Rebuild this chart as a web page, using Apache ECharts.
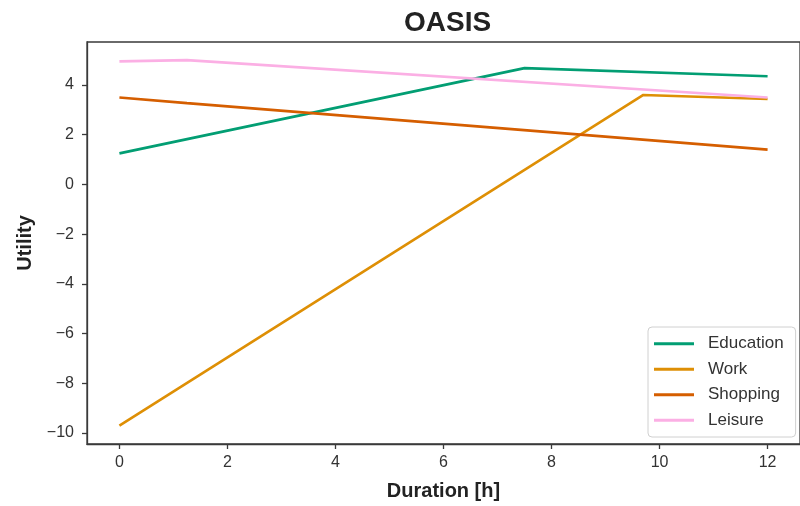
<!DOCTYPE html>
<html>
<head>
<meta charset="utf-8">
<script src="https://cdn.jsdelivr.net/npm/echarts@6/dist/echarts.min.js"></script>
<style>
  html, body { margin: 0; padding: 0; background: #fff; }
  #chart { width: 800px; height: 506px; }
</style>
</head>
<body>
<div id="chart"></div>
<script>
// Utility of each activity as a function of its duration (hours)
const educationX = [0, 7.5, 12];
const educationY = [1.25, 4.68, 4.35];

const workX = [0, 9.7, 12];
const workY = [-9.7, 3.6, 3.44];

const shoppingX = [0, 1.25, 12];
const shoppingY = [3.5, 3.27, 1.4];

const leisureX = [0, 1.25, 12];
const leisureY = [4.95, 5.0, 3.5];

const seriesNames = ['Education', 'Work', 'Shopping', 'Leisure'];
const xTicks = [0, 2, 4, 6, 8, 10, 12];
const yTicks = [-10, -8, -6, -4, -2, 0, 2, 4];

const palette = ['#029e73', '#de8f05', '#d55e00', '#fbafe4'];
const FONT = '"Liberation Sans", Arial, sans-serif';
const INK = '#333333';

function pairs(xs, ys) {
  return xs.map((x, i) => [x, ys[i]]);
}
const seriesData = [
  pairs(educationX, educationY),
  pairs(workX, workY),
  pairs(shoppingX, shoppingY),
  pairs(leisureX, leisureY)
];

const fmtMinus = v => String(v).replace('-', '\u2212');

const chart = echarts.init(document.getElementById('chart'), null, { renderer: 'canvas' });
chart.setOption({
  animation: false,
  backgroundColor: '#ffffff',
  textStyle: { fontFamily: FONT },
  title: {
    text: 'OASIS',
    left: 399,
    top: 4,
    textStyle: { fontFamily: FONT, fontSize: 28, fontWeight: 'bold', color: '#222' }
  },
  grid: {
    left: 87, right: -7, top: 42, bottom: 61,
    show: true, borderColor: '#3a3a3a', borderWidth: 1.3,
    backgroundColor: 'transparent'
  },
  legend: {
    orient: 'vertical',
    left: 648, top: 327,
    data: seriesNames,
    icon: 'rect',
    itemWidth: 40, itemHeight: 3,
    itemGap: 6,
    padding: [7, 12, 7, 6],
    backgroundColor: '#ffffff',
    borderColor: '#d0d0d0', borderWidth: 1, borderRadius: 4,
    textStyle: { fontFamily: FONT, fontSize: 17, color: INK, lineHeight: 19.5, padding: [0, 0, 0, 9] }
  },
  xAxis: {
    type: 'value',
    min: -0.6, max: 12.6,
    name: 'Duration [h]',
    nameLocation: 'middle',
    nameGap: 37,
    nameTextStyle: { fontFamily: FONT, fontSize: 20, fontWeight: 'bold', color: '#222' },
    axisLine: { show: true, onZero: false, lineStyle: { color: '#3a3a3a', width: 1.3 } },
    axisTick: { show: true, inside: false, length: 5, customValues: xTicks, lineStyle: { color: '#3a3a3a', width: 1.3 } },
    axisLabel: { customValues: xTicks, margin: 11, fontFamily: FONT, fontSize: 16, color: INK, formatter: fmtMinus },
    splitLine: { show: false }
  },
  yAxis: {
    type: 'value',
    min: -10.44, max: 5.73,
    name: 'Utility',
    nameLocation: 'middle',
    nameRotate: 90,
    nameGap: 52,
    nameTextStyle: { fontFamily: FONT, fontSize: 20, fontWeight: 'bold', color: '#222' },
    axisLine: { show: true, onZero: false, lineStyle: { color: '#3a3a3a', width: 1.3 } },
    axisTick: { show: true, inside: false, length: 5, customValues: yTicks, lineStyle: { color: '#3a3a3a', width: 1.3 } },
    axisLabel: { customValues: yTicks, margin: 13, fontFamily: FONT, fontSize: 16, color: INK, formatter: fmtMinus },
    splitLine: { show: false }
  },
  series: seriesNames.map((name, i) => ({
    name: name,
    type: 'line',
    data: seriesData[i],
    showSymbol: false,
    symbol: 'none',
    lineStyle: { color: palette[i], width: 2.6 },
    itemStyle: { color: palette[i] },
    z: 2 + i
  }))
});
</script>
</body>
</html>
